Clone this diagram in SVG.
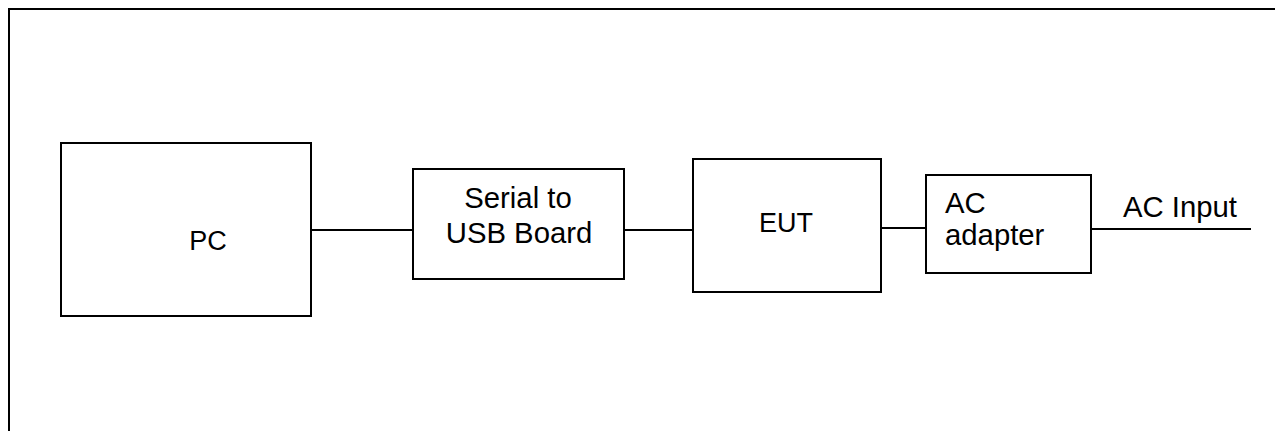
<svg xmlns="http://www.w3.org/2000/svg" width="1275" height="431" viewBox="0 0 1275 431">
<style>
.box{fill:#fff;stroke:#000;stroke-width:2}
.frame{fill:none;stroke:#000;stroke-width:2}
.wire{fill:none;stroke:#000;stroke-width:2}
text{font-family:"Liberation Sans",Arial,sans-serif;font-size:29.3px;fill:#000}
.big{font-size:27px}
</style>
<rect width="1275" height="431" fill="#fff"/>
<path class="frame" d="M9,431 V9 H1275"/>
<g id="connectors">
<line class="wire" x1="311" y1="230" x2="413" y2="230"/>
<line class="wire" x1="624" y1="230" x2="693" y2="230"/>
<line class="wire" x1="881" y1="228" x2="926" y2="228"/>
<line class="wire" x1="1091" y1="229" x2="1251" y2="229"/>
</g>
<g id="pc">
<rect class="box" x="61" y="143" width="250" height="173"/>
<text class="big" x="208" y="250" text-anchor="middle">PC</text>
</g>
<g id="serial">
<rect class="box" x="413" y="169" width="211" height="110"/>
<text x="518" y="208" text-anchor="middle">Serial to</text>
<text x="519" y="243" text-anchor="middle">USB Board</text>
</g>
<g id="eut">
<rect class="box" x="693" y="159" width="188" height="133"/>
<text class="big" x="786" y="232" text-anchor="middle">EUT</text>
</g>
<g id="adapter">
<rect class="box" x="926" y="175" width="165" height="98"/>
<text x="945" y="213">AC</text>
<text x="945" y="245">adapter</text>
</g>
<g id="acinput">
<text x="1123" y="217">AC Input</text>
</g>
</svg>
